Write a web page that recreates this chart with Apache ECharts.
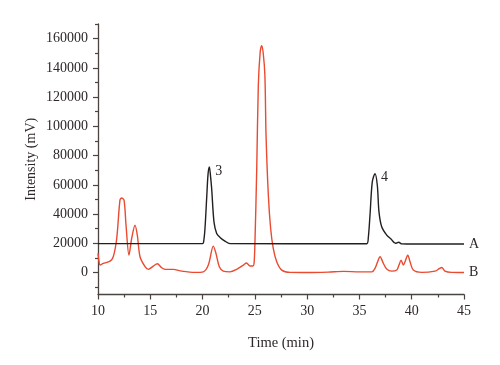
<!DOCTYPE html>
<html>
<head>
<meta charset="utf-8">
<script src="https://cdn.jsdelivr.net/npm/echarts@6/dist/echarts.min.js"></script>
<style>
  html, body { margin: 0; padding: 0; background: #fff; }
  #chart { width: 500px; height: 365px; }
</style>
</head>
<body>
<div id="chart"></div>
<script>
// ---- data ----
const timeA = [10, 20.0, 20.1, 20.23, 20.39, 20.52, 20.65, 20.76, 20.87, 21.09, 21.35, 21.67, 22.14, 22.62,
  35.7, 35.85, 36.01, 36.23, 36.49, 36.71, 36.87, 37.13, 37.61, 38.02, 38.45, 38.75, 39.05, 39.5, 45];
const intensityA = [19800, 19800, 21000, 30100, 50600, 67000, 72200, 66000, 57400, 34700, 26700, 24000, 21500, 19800,
  19700, 24000, 39200, 62000, 67700, 59700, 41500, 31300, 25600, 22900, 20000, 20700, 19600, 19500, 19500];

const timeB = [10.0, 10.1, 10.2, 10.5, 11.15, 11.46, 11.79, 12.1, 12.26, 12.49, 12.68, 12.96, 13.22, 13.54, 13.76, 14.02,
  14.5, 14.81, 15.29, 15.67, 16.09, 16.41, 17.2, 18.0, 19.28, 20.07, 20.55, 21.03, 21.28, 21.6, 21.98, 22.62,
  23.26, 23.9, 24.2, 24.54, 24.8, 24.92, 25.01, 25.18, 25.33, 25.5, 25.65, 25.8, 25.96, 26.07, 26.29, 26.51,
  26.76, 27.09, 27.57, 28.36, 30, 32, 33.5, 35, 36.2, 36.5, 36.74, 36.97, 37.29, 37.61, 38.09, 38.57, 38.78,
  38.98, 39.2, 39.36, 39.62, 39.84, 40.15, 40.96, 42.23, 42.6, 42.87, 43.18, 43.8, 45];
const intensityB = [13100, 7500, 5100, 6300, 7800, 10800, 23300, 49500, 51000, 49500, 32400, 11900, 23300, 32400, 25600, 10800,
  4000, 2200, 4400, 6000, 3300, 2200, 2200, 1000, 100, 500, 5100, 18100, 13100, 4000, 1000, 500,
  2200, 5100, 6500, 4500, 4500, 6000, 21000, 71100, 127900, 150000, 155200, 150000, 134800, 93800, 52900, 30100,
  16500, 7400, 1700, 100, 0, 300, 800, 500, 500, 3000, 7400, 10800, 6300, 2400, 1000, 1700, 5100,
  8500, 5100, 7400, 11900, 7400, 1700, 100, 1000, 2500, 3500, 1000, 100, 0];

const peakNames = ['3', '4'];
const peakTimes = [20.65, 36.49];
const peakValues = [72200, 67700];

const yMajorTicks = [0, 20000, 40000, 60000, 80000, 100000, 120000, 140000, 160000];
const yMinorTicks = [-10000, 10000, 30000, 50000, 70000, 90000, 110000, 130000, 150000, 170000];

// ---- chart ----
const FONT = 'Liberation Serif';
const TXT = '#2e2828';
const AX = '#4a4340';

const pairs = (xs, ys) => xs.map((x, i) => [x, ys[i]]);

const chart = echarts.init(document.getElementById('chart'), null, { renderer: 'canvas' });
chart.setOption({
  animation: false,
  backgroundColor: '#ffffff',
  grid: { left: 98, right: 36, top: 24, bottom: 70.5, containLabel: false },
  xAxis: {
    type: 'value', min: 10, max: 45, interval: 5,
    name: 'Time (min)', nameLocation: 'middle', nameGap: 41, nameMoveOverlap: false,
    nameTextStyle: { fontFamily: FONT, fontSize: 14.5, color: TXT },
    axisLine: { show: true, onZero: false, lineStyle: { color: AX, width: 1.3 } },
    axisTick: { show: true, inside: false, length: 5, lineStyle: { color: AX, width: 1.2 } },
    minorTick: { show: true, splitNumber: 2, length: 3, lineStyle: { color: AX, width: 1.2 } },
    axisLabel: { fontFamily: FONT, fontSize: 14, color: TXT, margin: 10 },
    splitLine: { show: false }
  },
  yAxis: [{
    type: 'value', min: -15000, max: 170000,
    name: 'Intensity (mV)', nameLocation: 'middle', nameGap: 60, nameMoveOverlap: false,
    nameTextStyle: { fontFamily: FONT, fontSize: 14, color: TXT },
    axisLine: { show: true, onZero: false, lineStyle: { color: AX, width: 1.3 } },
    axisTick: { show: true, inside: false, length: 5, customValues: yMajorTicks, lineStyle: { color: AX, width: 1.2 } },
    axisLabel: { fontFamily: FONT, fontSize: 14, color: TXT, margin: 10, customValues: yMajorTicks,
                 formatter: v => String(v) },
    splitLine: { show: false }
  }, {
    type: 'value', min: -15000, max: 170000, position: 'left',
    axisLine: { show: false },
    axisTick: { show: true, inside: false, length: 3, customValues: yMinorTicks, lineStyle: { color: AX, width: 1.2 } },
    axisLabel: { show: false, customValues: yMinorTicks },
    splitLine: { show: false }
  }],
  series: [{
    name: 'A', type: 'line', data: pairs(timeA, intensityA),
    showSymbol: false, smooth: 0.3, clip: true,
    lineStyle: { color: '#231f20', width: 1.4 },
    endLabel: { show: true, formatter: 'A', distance: 5, fontFamily: FONT, fontSize: 14, color: TXT },
    z: 3
  }, {
    name: 'B', type: 'line', data: pairs(timeB, intensityB),
    showSymbol: false, smooth: 0.3, clip: true,
    lineStyle: { color: '#ea4a30', width: 1.4 },
    endLabel: { show: true, formatter: 'B', distance: 5, fontFamily: FONT, fontSize: 14, color: TXT },
    z: 2
  }, {
    name: 'peaks', type: 'scatter', symbolSize: 2, itemStyle: { color: 'rgba(0,0,0,0)', opacity: 1 },
    data: peakTimes.map((t, i) => ({ name: peakNames[i], value: [t, peakValues[i]] })),
    label: { show: true, position: 'right', distance: 5, offset: [0, 4], formatter: '{b}', opacity: 1,
             fontFamily: FONT, fontSize: 14, color: TXT },
    emphasis: { disabled: true },
    z: 4
  }]
});
</script>
</body>
</html>
